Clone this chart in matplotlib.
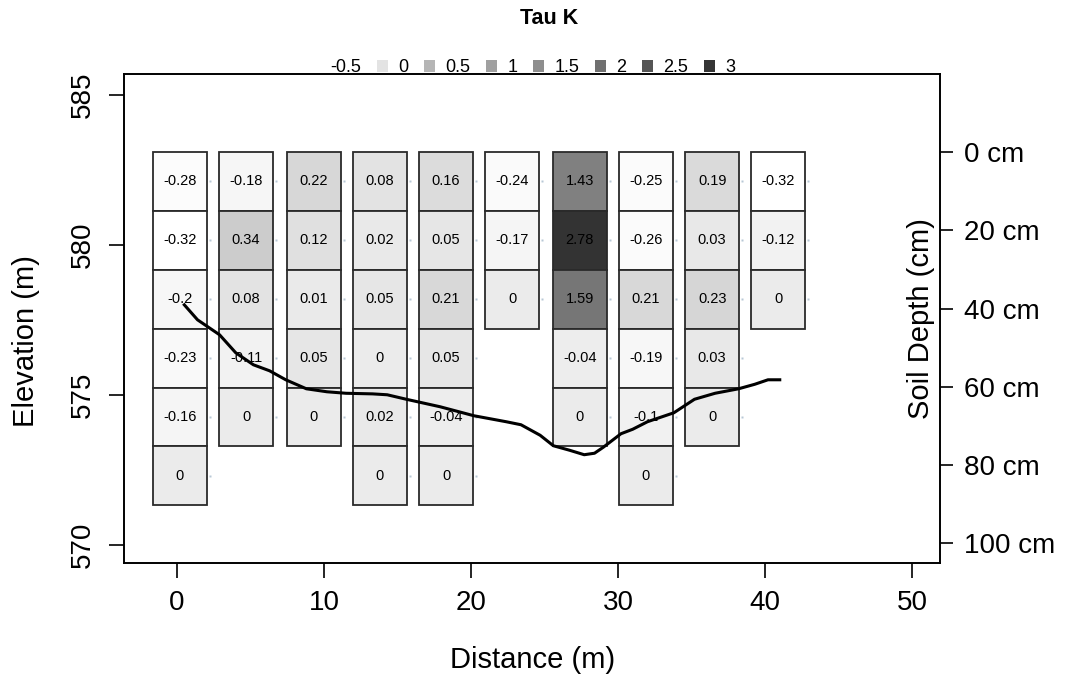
import numpy as np
import matplotlib
matplotlib.use('Agg')
import matplotlib.pyplot as plt
from matplotlib.patches import Rectangle, Patch

plt.rcParams['font.family'] = ['Liberation Sans', 'DejaVu Sans']

# centres des colonnes (m) et valeurs Tau K par profondeur (haut -> bas)
distances = [0.2, 4.7, 9.3, 13.8, 18.3, 22.8, 27.4, 31.9, 36.4, 40.9]
tau_k = [
    [-0.28, -0.32, -0.2, -0.23, -0.16, 0],
    [-0.18, 0.34, 0.08, -0.11, 0],
    [0.22, 0.12, 0.01, 0.05, 0],
    [0.08, 0.02, 0.05, 0, 0.02, 0],
    [0.16, 0.05, 0.21, 0.05, -0.04, 0],
    [-0.24, -0.17, 0],
    [1.43, 2.78, 1.59, -0.04, 0],
    [-0.25, -0.26, 0.21, -0.19, -0.1, 0],
    [0.19, 0.03, 0.23, 0.03, 0],
    [-0.32, -0.12, 0],
]

# profil topographique (distance, altitude)
profile_x = [0.5, 1.4, 2.9, 4.0, 5.2, 6.3, 7.4, 8.8, 10.2, 11.5, 13.3, 14.3, 15.6,
             17.9, 20.2, 22.4, 23.4, 24.7, 25.6, 26.7, 27.7, 28.4, 29.0, 30.2,
             31.0, 32.0, 33.8, 35.2, 36.6, 38.2, 39.3, 40.2, 41.0]
profile_y = [578.0, 577.5, 577.0, 576.4, 576.0, 575.8, 575.5, 575.2, 575.1, 575.05,
             575.03, 575.0, 574.85, 574.6, 574.3, 574.1, 574.0, 573.65, 573.3,
             573.15, 573.0, 573.05, 573.25, 573.7, 573.85, 574.1, 574.4, 574.85,
             575.05, 575.2, 575.35, 575.5, 575.5]

legend_values = [-0.5, 0, 0.5, 1, 1.5, 2, 2.5, 3]
legend_colors = ['#ffffff', '#e3e3e3', '#b5b5b5', '#a0a0a0', '#8e8e8e', '#707070', '#555555', '#353535']
depth_ticks = [0, 20, 40, 60, 80, 100]

top = 583.1
row_h = 1.965
cell_w = 3.68


def gray_for(v):
    g = np.interp(v, [-0.32, 0, 0.34, 1.43, 2.78], [1.0, 0.92, 0.80, 0.50, 0.20])
    return (g, g, g)


fig = plt.figure(figsize=(10.71, 6.82), dpi=100)
ax = fig.add_axes([0.1158, 0.175, 0.7619, 0.7165])

for x, col in zip(distances, tau_k):
    for i, v in enumerate(col):
        y0 = top - (i + 1) * row_h
        ax.add_patch(Rectangle((x - cell_w / 2, y0), cell_w, row_h,
                               facecolor=gray_for(v), edgecolor='#2a2a2a', linewidth=1.3, zorder=2))
        ax.text(x, y0 + row_h / 2, f"{v:g}", ha='center', va='center', fontsize=10.5, zorder=4)
        ax.plot(x + 2.05, y0 + row_h / 2, 's', ms=1.8, color='#b8c8d6', mec='none', zorder=3)

ax.plot(profile_x, profile_y, color='black', linewidth=2.2, zorder=5)

ax.set_xlim(-3.6, 51.9)
ax.set_ylim(569.4, 585.7)
ax.set_xticks([0, 10, 20, 30, 40, 50])
ax.set_yticks([570, 575, 580, 585])
ax.tick_params(axis='both', labelsize=20, length=11, width=1.2, pad=9)
for t in ax.get_yticklabels():
    t.set_rotation(90)
    t.set_va('center')
for s in ax.spines.values():
    s.set_linewidth(1.2)

ax2 = ax.twinx()
ax2.set_ylim(ax.get_ylim())
ax2.set_yticks([top - d * 0.1306 for d in depth_ticks])
ax2.set_yticklabels([f"{d} cm" for d in depth_ticks])
ax2.tick_params(axis='y', labelsize=20, length=9, width=1.2, pad=8)
for s in ax2.spines.values():
    s.set_linewidth(1.2)

fig.text(0.024, 0.5, 'Elevation (m)', rotation=90, ha='center', va='center', fontsize=21)
fig.text(0.497, 0.032, 'Distance (m)', ha='center', va='center', fontsize=21)
ax.text(0.977, 0.5, 'Soil Depth (cm)', rotation=90, ha='center', va='center',
        fontsize=21, transform=ax.transAxes)
fig.text(0.5125, 0.973, 'Tau K', ha='center', va='center', fontsize=15.5, fontweight='bold')

handles = [Patch(facecolor=c, edgecolor='none') for c in legend_colors]
ax.legend(handles, [f"{v:g}" for v in legend_values], ncol=8, loc='lower center',
          bbox_to_anchor=(0.488, 0.995), frameon=False, fontsize=13,
          handlelength=0.6, handleheight=0.6, handletextpad=0.55, columnspacing=0.9,
          borderaxespad=0, borderpad=0)

fig.savefig('out.png', dpi=100)
